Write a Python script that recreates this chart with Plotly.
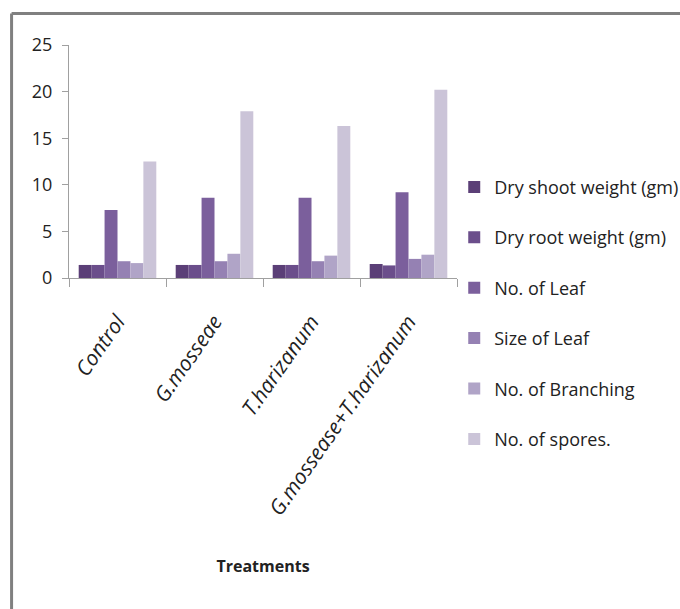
import plotly.graph_objects as go

categories = ["Control", "G.mosseae", "T.harizanum", "G.mossease+T.harizanum"]
series_names = ["Dry shoot weight (gm)", "Dry root weight (gm)", "No. of Leaf",
                "Size of Leaf", "No. of Branching", "No. of spores."]
dry_shoot = [1.4, 1.4, 1.4, 1.5]
dry_root = [1.4, 1.4, 1.4, 1.35]
no_leaf = [7.3, 8.6, 8.6, 9.2]
size_leaf = [1.8, 1.8, 1.8, 2.05]
no_branching = [1.6, 2.6, 2.4, 2.5]
no_spores = [12.5, 17.9, 16.3, 20.2]
colors = ["#5b3f77", "#6b4e8b", "#7b5f9c", "#9581b3", "#b0a4c7", "#cbc4d8"]

values = [dry_shoot, dry_root, no_leaf, size_leaf, no_branching, no_spores]

fig = go.Figure()
for i, (name, vals) in enumerate(zip(series_names, values)):
    fig.add_trace(go.Bar(x=categories, y=vals, name=name, marker_color=colors[i],
                         marker_line_width=0, legendgroup=str(i)))

font_main = "Open Sans, sans-serif"

fig.update_layout(
    width=680, height=609,
    paper_bgcolor="white", plot_bgcolor="white",
    margin=dict(l=69, r=223, t=45, b=331, autoexpand=False),
    barmode="group", bargap=0.2, bargroupgap=0,
    font=dict(family=font_main, color="#222222"),
    legend=dict(xref="container", yref="container", x=0.668, y=0.723,
                xanchor="left", yanchor="top",
                traceorder="grouped", tracegroupgap=24, maxheight=1.0,
                font=dict(size=18, family=font_main, color="#222222"),
                itemwidth=30, bgcolor="rgba(0,0,0,0)"),
    xaxis=dict(showline=True, linecolor="#a0a0a0", linewidth=1,
               ticks="outside", tickson="boundaries", ticklen=8, tickcolor="#a0a0a0",
               tickangle=-55, showgrid=False, automargin=False, ticklabelstandoff=22,
               tickfont=dict(size=21, family=font_main, style="italic", color="#222222"),
               title=dict(text="<b>Treatments</b>", font=dict(size=16, family=font_main),
                          standoff=41)),
    yaxis=dict(range=[0, 25], dtick=5, showline=True, linecolor="#a0a0a0", linewidth=1,
               ticks="outside", ticklen=6, tickcolor="#a0a0a0", showgrid=False,
               zeroline=False, automargin=False, ticklabelstandoff=6,
               tickfont=dict(size=18, family=font_main, color="#222222")),
)

# frame lines (top and left) as in the original figure border
fig.add_shape(type="line", xref="paper", yref="paper", x0=-0.148, x1=1.6, y0=1.1355, y1=1.1355,
              line=dict(color="#808080", width=3))
fig.add_shape(type="line", xref="paper", yref="paper", x0=-0.148, x1=-0.148, y0=-1.5, y1=1.1355,
              line=dict(color="#808080", width=3))

fig.write_html("out.html")
